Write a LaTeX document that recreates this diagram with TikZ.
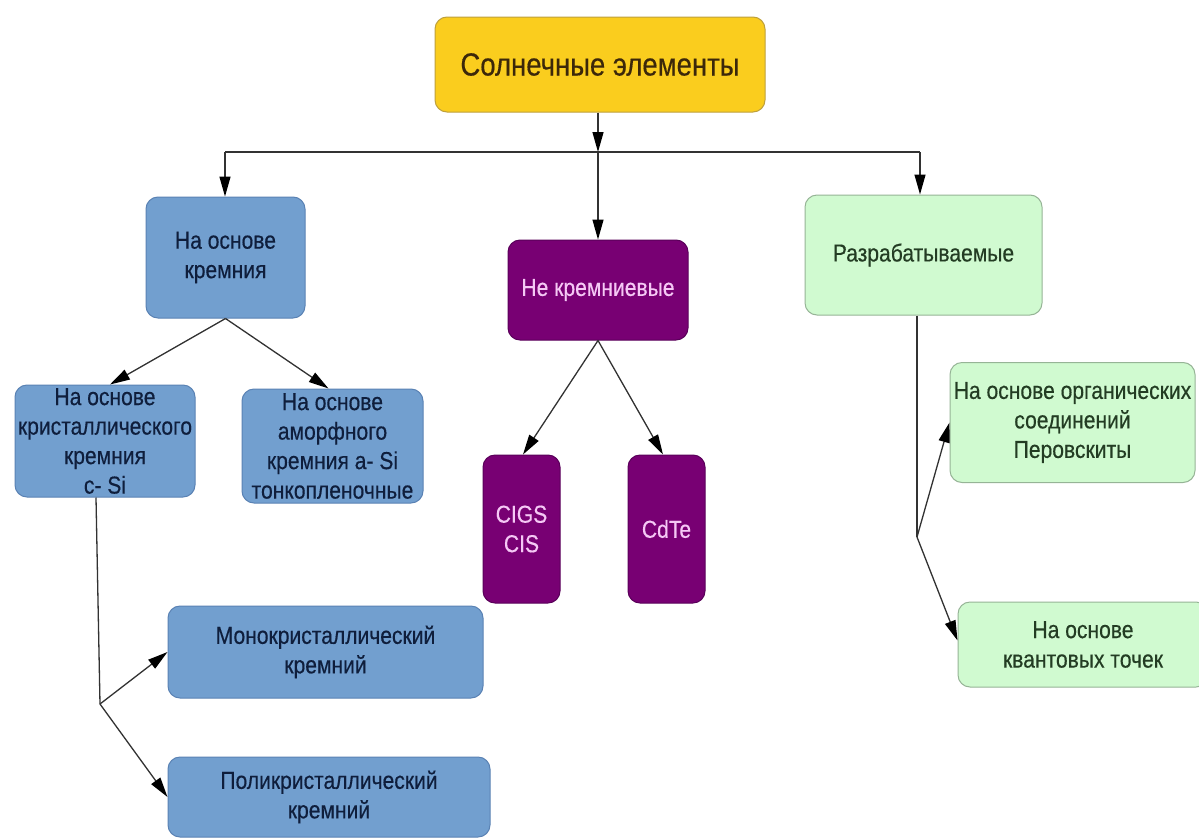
\documentclass[tikz,border=0pt]{standalone}
\usepackage{fontspec}
\setmainfont[FakeStretch=0.86,FakeBold=0.4]{Liberation Sans}
\usetikzlibrary{arrows.meta,calc}
\definecolor{yfill}{RGB}{250,205,30}
\definecolor{ydraw}{RGB}{190,160,60}
\definecolor{ytext}{RGB}{60,40,10}
\definecolor{bfill}{RGB}{114,159,207}
\definecolor{bdraw}{RGB}{90,130,180}
\definecolor{btext}{RGB}{15,30,60}
\definecolor{pfill}{RGB}{120,0,115}
\definecolor{pdraw}{RGB}{90,0,90}
\definecolor{ptext}{RGB}{245,200,245}
\definecolor{gfill}{RGB}{208,250,208}
\definecolor{gdraw}{RGB}{150,180,150}
\definecolor{gtext}{RGB}{35,60,35}
\definecolor{line}{RGB}{50,50,50}
\tikzset{
  box/.style={rectangle,rounded corners=12pt,line width=1pt,inner sep=0pt,align=center,font=\fontsize{24.5}{29.5}\selectfont},
  rootbox/.style={box,fill=yfill,draw=ydraw,text=ytext,font=\fontsize{32}{38}\selectfont},
  bluebox/.style={box,fill=bfill,draw=bdraw,text=btext},
  purplebox/.style={box,fill=pfill,draw=pdraw,text=ptext},
  greenbox/.style={box,fill=gfill,draw=gdraw,text=gtext},
  conn/.style={draw=line,line width=1.3pt},
  arr/.style={conn,-{Triangle[length=20pt,width=11pt,color=black]}}
}
\begin{document}
\begin{tikzpicture}[x=1pt,y=-1pt]
\useasboundingbox (0,0) rectangle (1199,838);
\fill[white] (0,0) rectangle (1199,838);
% nodes
\node[rootbox,minimum width=330pt,minimum height=95pt] (root) at (600,64.5) {Солнечные элементы};
\node[bluebox,minimum width=159pt,minimum height=121pt] (si) at (225.5,257.5) {На основе\\кремния};
\node[purplebox,minimum width=180pt,minimum height=100pt] (nsi) at (598,290) {Не кремниевые};
\node[greenbox,minimum width=237pt,minimum height=120pt] (dev) at (923.5,255) {Разрабатываемые};
\node[bluebox,minimum width=180pt,minimum height=112pt] (csi) at (105,441) {На основе\\кристаллического\\кремния\\c- Si};
\node[bluebox,minimum width=181pt,minimum height=114pt] (asi) at (332.5,446) {На основе\\аморфного\\кремния a- Si\\тонкопленочные};
\node[purplebox,minimum width=77pt,minimum height=148pt] (cigs) at (521.5,529) {CIGS\\CIS};
\node[purplebox,minimum width=77pt,minimum height=148pt] (cdte) at (666.5,529) {CdTe};
\node[bluebox,minimum width=315pt,minimum height=92pt] (mono) at (325.5,652) {Монокристаллический\\кремний};
\node[bluebox,minimum width=322pt,minimum height=80pt] (poly) at (329,797) {Поликристаллический\\кремний};
\node[greenbox,minimum width=245pt,minimum height=120pt] (org) at (1072.5,422.5) {На основе органических\\соединений\\Перовскиты};
\node[greenbox,minimum width=250pt,minimum height=85pt] (qd) at (1083,644.5) {На основе\\квантовых точек};
% junction coordinates
\coordinate (jr) at (598,152);
\coordinate (jl) at (225,152);
\coordinate (jg) at (920,152);
\coordinate (ja) at (100,704);
\coordinate (jd) at (917,537);
% connectors
\draw[arr] (root.south -| jr) -- (jr);
\draw[conn] (jl) -- (jg);
\draw[arr] (jl) -- (si.north -| jl);
\draw[arr] (jr) -- (nsi.north -| jr);
\draw[arr] (jg) -- (dev.north -| jg);
\draw[arr] (si.south) -- ($(csi.north)+(5,0)$);
\draw[arr] (si.south) -- ($(asi.north)+(-4,0)$);
\draw[arr] (nsi.south) -- ($(cigs.north)+(1.5,0)$);
\draw[arr] (nsi.south) -- ($(cdte.north)+(-3.5,0)$);
\draw[conn] ($(csi.south)+(-9,0)$) -- (ja);
\draw[arr] (ja) -- (mono.west);
\draw[arr] (ja) -- (poly.west);
\draw[conn] (dev.south -| jd) -- (jd);
\draw[arr] (jd) -- (org.west);
\draw[arr] (jd) -- ($(qd.west)+(0,-4)$);
\end{tikzpicture}
\end{document}
